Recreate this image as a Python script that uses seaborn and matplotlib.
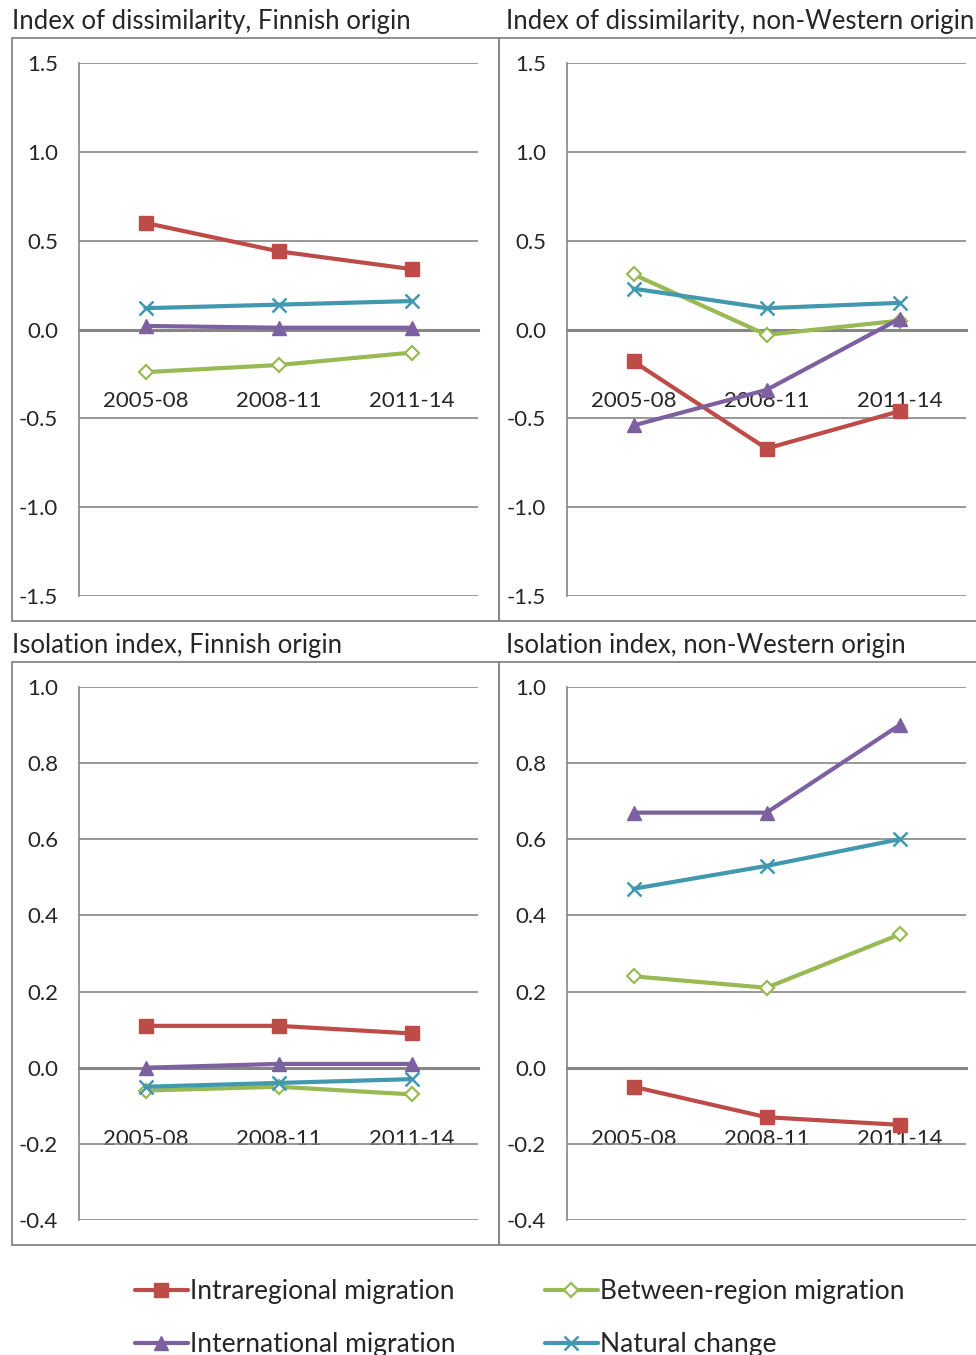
import matplotlib
matplotlib.use("Agg")
import matplotlib.pyplot as plt
import seaborn as sns
from matplotlib.patches import Rectangle

# ---- data ----
periods = ["2005-08", "2008-11", "2011-14"]
series_names = ["Intraregional migration", "Between-region migration",
                "International migration", "Natural change"]

dis_fin_intra = [0.60, 0.44, 0.34]
dis_fin_between = [-0.24, -0.20, -0.13]
dis_fin_international = [0.02, 0.01, 0.01]
dis_fin_natural = [0.12, 0.14, 0.16]

dis_nw_intra = [-0.18, -0.67, -0.46]
dis_nw_between = [0.31, -0.03, 0.05]
dis_nw_international = [-0.54, -0.34, 0.06]
dis_nw_natural = [0.23, 0.12, 0.15]

iso_fin_intra = [0.11, 0.11, 0.09]
iso_fin_between = [-0.06, -0.05, -0.07]
iso_fin_international = [0.00, 0.01, 0.01]
iso_fin_natural = [-0.05, -0.04, -0.03]

iso_nw_intra = [-0.05, -0.13, -0.15]
iso_nw_between = [0.24, 0.21, 0.35]
iso_nw_international = [0.67, 0.67, 0.90]
iso_nw_natural = [0.47, 0.53, 0.60]

dis_ticks = [-1.5, -1.0, -0.5, 0.0, 0.5, 1.0, 1.5]
iso_ticks = [-0.4, -0.2, 0.0, 0.2, 0.4, 0.6, 0.8, 1.0]

# ---- styling ----
sns.set_style("white")
plt.rcParams["font.family"] = ["Lato", "DejaVu Sans"]

GRAY = "#868686"
styles = {
    "Intraregional migration": dict(color="#BE4B48", marker="s", mfc="#BE4B48", ms=9.5),
    "Between-region migration": dict(color="#98B954", marker="D", mfc="white", ms=7.5, mew=1.6),
    "International migration": dict(color="#7D60A0", marker="^", mfc="#7D60A0", ms=10),
    "Natural change": dict(color="#4198AF", marker="x", mfc="#4198AF", ms=9.5, mew=1.8),
}

W, H = 976, 1355
fig = plt.figure(figsize=(W / 100, H / 100), dpi=100)


def frect(x0, y0, x1, y1):
    return [x0 / W, 1 - y1 / H, (x1 - x0) / W, (y1 - y0) / H]


panels = [
    ("Index of dissimilarity, Finnish origin",
     [dis_fin_intra, dis_fin_between, dis_fin_international, dis_fin_natural],
     dis_ticks, 12, 38, 79),
    ("Index of dissimilarity, non-Western origin",
     [dis_nw_intra, dis_nw_between, dis_nw_international, dis_nw_natural],
     dis_ticks, 499, 38, 567),
    ("Isolation index, Finnish origin",
     [iso_fin_intra, iso_fin_between, iso_fin_international, iso_fin_natural],
     iso_ticks, 12, 662, 79),
    ("Isolation index, non-Western origin",
     [iso_nw_intra, iso_nw_between, iso_nw_international, iso_nw_natural],
     iso_ticks, 499, 662, 567),
]

axes = []
for title, values, yticks, fx, fy, ax_x in panels:
    # panel frame and title
    fig.add_artist(Rectangle((fx / W, 1 - (fy + 583) / H), 487 / W, 583 / H,
                             transform=fig.transFigure, fill=False,
                             edgecolor=GRAY, lw=1.3))
    tx = fx if fx < 100 else fx + 7
    fig.text(tx / W, 1 - (fy - 17) / H, title, fontsize=18.5, va="center", ha="left")

    ax = fig.add_axes(frect(ax_x, fy + 25, ax_x + 399, fy + 558))
    x = list(range(len(periods)))
    for name, vals in zip(series_names, values):
        st = styles[name]
        sns.lineplot(x=x, y=vals, ax=ax, color=st["color"], lw=3.0,
                     marker=st["marker"], markersize=st["ms"],
                     markerfacecolor=st["mfc"], markeredgecolor=st["color"],
                     markeredgewidth=st.get("mew", 1.0), label=name,
                     zorder=4, clip_on=False)
    ax.set_xlim(-0.5, len(periods) - 0.5)
    ax.set_ylim(yticks[0], yticks[-1])
    ax.set_yticks(yticks)
    ax.set_yticklabels([f"{t:.1f}" for t in yticks])
    ax.yaxis.grid(True, color=GRAY, lw=1.2)
    ax.set_axisbelow(True)
    ax.tick_params(axis="y", length=6, width=1.2, color=GRAY, labelsize=16, pad=9)

    ax.spines["top"].set_visible(False)
    ax.spines["right"].set_visible(False)
    ax.spines["left"].set_color(GRAY)
    ax.spines["left"].set_linewidth(1.2)
    ax.spines["bottom"].set_position(("data", 0))
    ax.spines["bottom"].set_color(GRAY)
    ax.spines["bottom"].set_linewidth(2.2)
    ax.spines["bottom"].set_zorder(3)

    ax.set_xticks([i - 0.5 for i in range(len(periods) + 1)])
    ax.set_xticklabels([])
    ax.set_xticks(x, minor=True)
    ax.set_xticklabels(periods, minor=True)
    ax.tick_params(axis="x", which="major", length=5, width=1.6, color=GRAY, direction="out")
    ax.tick_params(axis="x", which="minor", length=0, labelsize=16, pad=44)
    ax.set_xlabel("")
    ax.set_ylabel("")
    axes.append(ax)

handles, labels = axes[0].get_legend_handles_labels()
for ax in axes:
    if ax.get_legend() is not None:
        ax.get_legend().remove()

# legend reads row by row: matplotlib fills columns first, so reorder
order = [0, 2, 1, 3]
fig.legend([handles[i] for i in order], [labels[i] for i in order],
           ncol=2, loc="upper left",
           bbox_to_anchor=(111 / W, 1 - 1255 / H), frameon=False,
           fontsize=19, handlelength=2.0, handletextpad=0.08,
           columnspacing=3.4, labelspacing=1.08)

fig.savefig("out.png", dpi=100)
